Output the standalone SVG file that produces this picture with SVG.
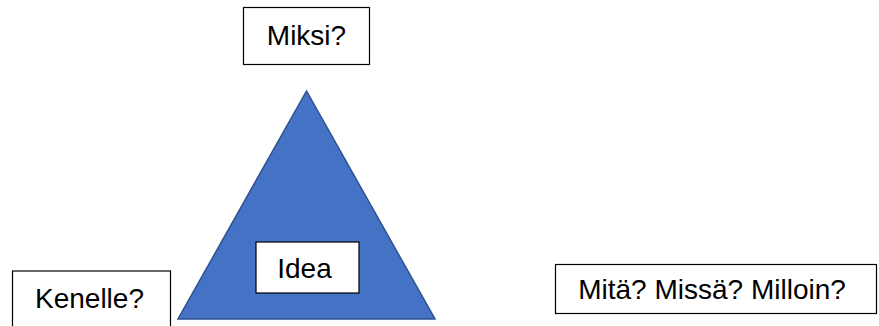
<svg xmlns="http://www.w3.org/2000/svg" width="879" height="326" viewBox="0 0 879 326">
<style>
.box{fill:#ffffff;stroke:#000000;stroke-width:1.2}
.lbl{font-family:"Liberation Sans",Arial,sans-serif;font-size:28px;fill:#000000}
.tri{fill:#4472C4;stroke:#2F528F;stroke-width:1.5}
</style>
<rect width="879" height="326" fill="#ffffff"/>
<g id="triangle">
<polygon class="tri" points="306.5,91 178,319 435,319"/>
</g>
<g id="miksi">
<rect class="box" x="243.5" y="7.5" width="126" height="57"/>
<text class="lbl" x="306.5" y="45" text-anchor="middle">Miksi?</text>
</g>
<g id="idea">
<rect class="box" x="256" y="242" width="103" height="51"/>
<text class="lbl" x="304.5" y="278" text-anchor="middle">Idea</text>
</g>
<g id="kenelle">
<rect class="box" x="12.5" y="271" width="158" height="60"/>
<text class="lbl" x="89.5" y="308" text-anchor="middle">Kenelle?</text>
</g>
<g id="mita">
<rect class="box" x="555.5" y="264.5" width="321" height="49"/>
<text class="lbl" x="712" y="299" text-anchor="middle">Mitä? Missä? Milloin?</text>
</g>
<g id="connectors"></g>
</svg>
